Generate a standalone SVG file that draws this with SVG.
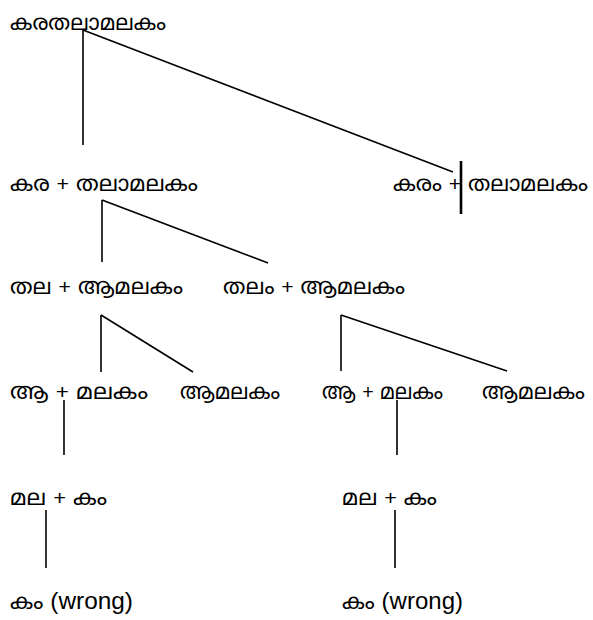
<svg xmlns="http://www.w3.org/2000/svg" width="593" height="620" viewBox="0 0 593 620">
<style>
text{font-family:"Noto Sans Malayalam","Noto Sans","Liberation Sans",sans-serif;font-size:22px;fill:#000}
tspan.p{font-family:"Liberation Sans",Arial,sans-serif;font-size:21px}
tspan.w{font-family:"Liberation Sans",Arial,sans-serif;font-size:24px}
.c line{stroke:#000;stroke-width:1.6}
</style>
<rect width="593" height="620" fill="#fff"/>
<g class="c" id="connectors">
<line x1="83" y1="30" x2="83" y2="145"/>
<line x1="83" y1="30" x2="453" y2="172"/>
<line x1="461" y1="161" x2="461" y2="214" style="stroke-width:2.6"/>
<line x1="102" y1="200" x2="102" y2="262"/>
<line x1="102" y1="200" x2="268" y2="263"/>
<line x1="101" y1="315" x2="101" y2="372"/>
<line x1="101" y1="315" x2="193" y2="372"/>
<line x1="341" y1="315" x2="341" y2="371"/>
<line x1="341" y1="315" x2="507" y2="371"/>
<line x1="64" y1="400" x2="64" y2="455"/>
<line x1="397" y1="400" x2="397" y2="455"/>
<line x1="46" y1="510" x2="46" y2="568"/>
<line x1="395" y1="510" x2="395" y2="568"/>
</g>
<g id="n1"><text x="10" y="30" textLength="156" lengthAdjust="spacingAndGlyphs">കരതലാമലകം</text></g>
<g id="n2"><text x="10" y="191" textLength="188" lengthAdjust="spacingAndGlyphs">കര <tspan class="p">+</tspan> തലാമലകം</text></g>
<g id="n3"><text x="393" y="191" textLength="195" lengthAdjust="spacingAndGlyphs">കരം <tspan class="p">+</tspan> തലാമലകം</text></g>
<g id="n4"><text x="10" y="294" textLength="173" lengthAdjust="spacingAndGlyphs">തല <tspan class="p">+</tspan> ആമലകം</text></g>
<g id="n5"><text x="223" y="294" textLength="182" lengthAdjust="spacingAndGlyphs">തലം <tspan class="p">+</tspan> ആമലകം</text></g>
<g id="n6"><text x="10" y="399" textLength="138" lengthAdjust="spacingAndGlyphs">ആ <tspan class="p">+</tspan> മലകം</text></g>
<g id="n7"><text x="180" y="399" textLength="100" lengthAdjust="spacingAndGlyphs">ആമലകം</text></g>
<g id="n8"><text x="322" y="399" textLength="121" lengthAdjust="spacingAndGlyphs">ആ <tspan class="p">+</tspan> മലകം</text></g>
<g id="n9"><text x="482" y="399" textLength="103" lengthAdjust="spacingAndGlyphs">ആമലകം</text></g>
<g id="n10"><text x="10" y="505" textLength="97" lengthAdjust="spacingAndGlyphs">മല <tspan class="p">+</tspan> കം</text></g>
<g id="n11"><text x="342" y="505" textLength="95" lengthAdjust="spacingAndGlyphs">മല <tspan class="p">+</tspan> കം</text></g>
<g id="n12"><text x="10" y="609" textLength="123" lengthAdjust="spacingAndGlyphs">കം <tspan class="w">(wrong)</tspan></text></g>
<g id="n13"><text x="342" y="609" textLength="121" lengthAdjust="spacingAndGlyphs">കം <tspan class="w">(wrong)</tspan></text></g>
</svg>
